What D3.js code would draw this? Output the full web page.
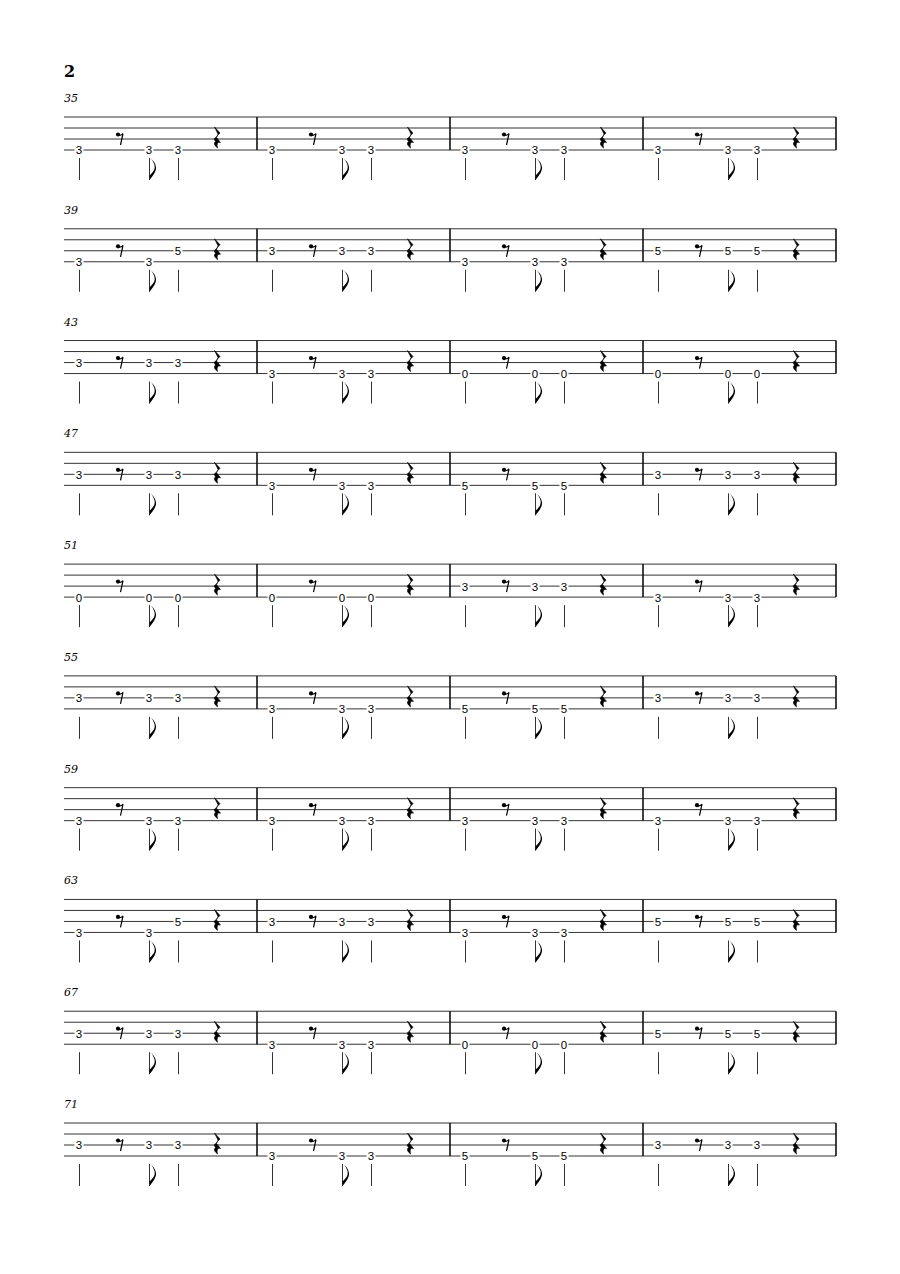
<!DOCTYPE html>
<html>
<head>
<meta charset="utf-8">
<script src="https://cdn.jsdelivr.net/npm/d3@7"></script>
<style>
  body { margin: 0; background: #fff; }
</style>
</head>
<body>
<script>
// Page size
let width = 900;
let height = 1274;

let svg = d3.select("body")
  .append("svg")
  .attr("width", width)
  .attr("height", height);

svg.append("rect")
  .attr("width", width)
  .attr("height", height)
  .attr("fill", "#fff");

// Data: page number, first bar number of each line, frets and strings per bar
const pageNumber = "2";
const systemStarts = [35, 39, 43, 47, 51, 55, 59, 63, 67, 71];

// one rhythm for every bar: quarter, eighth rest, eighth, quarter, quarter rest
const eventBeats = [0, 1, 1.5, 2, 3];
const eventTypes = ["note4", "rest8", "note8", "note4", "rest4"];

// frets of the three notes in each bar (bars 35..74)
const frets = [
  [3, 3, 3], [3, 3, 3], [3, 3, 3], [3, 3, 3],
  [3, 3, 5], [3, 3, 3], [3, 3, 3], [5, 5, 5],
  [3, 3, 3], [3, 3, 3], [0, 0, 0], [0, 0, 0],
  [3, 3, 3], [3, 3, 3], [5, 5, 5], [3, 3, 3],
  [0, 0, 0], [0, 0, 0], [3, 3, 3], [3, 3, 3],
  [3, 3, 3], [3, 3, 3], [5, 5, 5], [3, 3, 3],
  [3, 3, 3], [3, 3, 3], [3, 3, 3], [3, 3, 3],
  [3, 3, 5], [3, 3, 3], [3, 3, 3], [5, 5, 5],
  [3, 3, 3], [3, 3, 3], [0, 0, 0], [5, 5, 5],
  [3, 3, 3], [3, 3, 3], [5, 5, 5], [3, 3, 3]
];

// string of each note (1 = G top line ... 4 = E bottom line)
const strings = [
  [4, 4, 4], [4, 4, 4], [4, 4, 4], [4, 4, 4],
  [4, 4, 3], [3, 3, 3], [4, 4, 4], [3, 3, 3],
  [3, 3, 3], [4, 4, 4], [4, 4, 4], [4, 4, 4],
  [3, 3, 3], [4, 4, 4], [4, 4, 4], [3, 3, 3],
  [4, 4, 4], [4, 4, 4], [3, 3, 3], [4, 4, 4],
  [3, 3, 3], [4, 4, 4], [4, 4, 4], [3, 3, 3],
  [4, 4, 4], [4, 4, 4], [4, 4, 4], [4, 4, 4],
  [4, 4, 3], [3, 3, 3], [4, 4, 4], [3, 3, 3],
  [3, 3, 3], [4, 4, 4], [4, 4, 4], [3, 3, 3],
  [3, 3, 3], [4, 4, 4], [4, 4, 4], [3, 3, 3]
];

const barsPerSystem = 4;
const stringCount = 4;

// Colours
let line_color = "#333";
let bar_color = "#111";
let ink = "#000";

// Scales
const systemY = d3.scaleLinear()
  .domain([0, systemStarts.length - 1])
  .range([117, 1123]);

const measureX = d3.scaleBand()
  .domain(d3.range(barsPerSystem))
  .range([64, 836]);

// spacing inside a bar follows the engraver's uneven rhythmic spacing
const beatX = d3.scaleLinear()
  .domain([0, 1, 1.5, 2, 3])
  .range([15, 54, 85, 114, 153]);

const stringY = d3.scaleLinear()
  .domain([1, stringCount])
  .range([0, 33]);

const staffBottom = stringY(stringCount);

// Page number
svg.append("text")
  .attr("x", 64)
  .attr("y", 77)
  .attr("font-family", "'DejaVu Serif', 'Liberation Serif', serif")
  .attr("font-weight", "bold")
  .attr("font-size", 16)
  .attr("fill", ink)
  .text(pageNumber);

// Glyph paths
const quarterRest = "M -2.5,0 L 3,6 Q 0,8.5 -0.5,10.5 L 3.5,15.5 Q -1,14.5 0.5,21 Q -4.5,17 -1.5,14.5 L -3,12 Q 1,9 1,7 Z";
const eighthFlag = "M 0,0 C 4,-5 7,-9 6.5,-13 C 6,-17 3,-20 1.5,-21.5 C 4,-18 5.5,-15 5.2,-12.5 C 5,-9 2,-6.5 0,-4.5 Z";

systemStarts.forEach((startBar, s) => {
  let g = svg.append("g")
    .attr("class", "system")
    .attr("transform", `translate(0,${systemY(s)})`);

  // bar number
  g.append("text")
    .attr("x", 64)
    .attr("y", -15)
    .attr("font-family", "'DejaVu Serif', 'Liberation Serif', serif")
    .attr("font-style", "italic")
    .attr("font-size", 11)
    .attr("fill", ink)
    .text(startBar);

  // staff lines
  g.selectAll(".staffline")
    .data(d3.range(1, stringCount + 1))
    .enter().append("line")
    .attr("class", "staffline")
    .attr("x1", measureX(0))
    .attr("x2", measureX(barsPerSystem - 1) + measureX.bandwidth())
    .attr("y1", d => stringY(d))
    .attr("y2", d => stringY(d))
    .attr("stroke", line_color)
    .attr("stroke-width", 1);

  // bar lines at the end of every bar
  g.selectAll(".barline")
    .data(d3.range(barsPerSystem))
    .enter().append("line")
    .attr("class", "barline")
    .attr("x1", d => measureX(d) + measureX.bandwidth())
    .attr("x2", d => measureX(d) + measureX.bandwidth())
    .attr("y1", 0)
    .attr("y2", staffBottom)
    .attr("stroke", bar_color)
    .attr("stroke-width", 1.6);

  d3.range(barsPerSystem).forEach(m => {
    let barIndex = s * barsPerSystem + m;
    let bx = measureX(m);
    let noteIndex = 0;

    eventTypes.forEach((type, e) => {
      let x = bx + beatX(eventBeats[e]);

      if (type === "rest8") {
        let y = stringY(3);
        g.append("circle")
          .attr("cx", x)
          .attr("cy", y - 4.5)
          .attr("r", 2.1)
          .attr("fill", ink);
        g.append("path")
          .attr("d", `M ${x},${y - 4} Q ${x + 3},${y - 3} ${x + 5},${y - 5.5} L ${x + 2.5},${y + 6}`)
          .attr("fill", "none")
          .attr("stroke", ink)
          .attr("stroke-width", 1.2);
        return;
      }

      if (type === "rest4") {
        g.append("path")
          .attr("d", quarterRest)
          .attr("transform", `translate(${x},${stringY(2) - 1})`)
          .attr("fill", ink)
          .attr("stroke", ink)
          .attr("stroke-width", 0.6)
          .attr("stroke-linejoin", "round");
        return;
      }

      // note: fret number on its string
      let fret = frets[barIndex][noteIndex];
      let str = strings[barIndex][noteIndex];
      noteIndex++;
      let y = stringY(str);

      g.append("rect")
        .attr("x", x - 4.5)
        .attr("y", y - 4.5)
        .attr("width", 9)
        .attr("height", 9)
        .attr("fill", "#fff");

      g.append("text")
        .attr("x", x)
        .attr("y", y + 4.4)
        .attr("text-anchor", "middle")
        .attr("font-family", "'Liberation Sans', Arial, sans-serif")
        .attr("font-size", 11.5)
        .attr("fill", ink)
        .text(fret);

      // stem hangs below the staff
      g.append("line")
        .attr("x1", x + 0.5)
        .attr("x2", x + 0.5)
        .attr("y1", staffBottom + 8)
        .attr("y2", staffBottom + 30)
        .attr("stroke", line_color)
        .attr("stroke-width", 1);

      if (type === "note8") {
        g.append("path")
          .attr("d", eighthFlag)
          .attr("transform", `translate(${x + 0.5},${staffBottom + 30})`)
          .attr("fill", ink);
      }
    });
  });
});
</script>
</body>
</html>
